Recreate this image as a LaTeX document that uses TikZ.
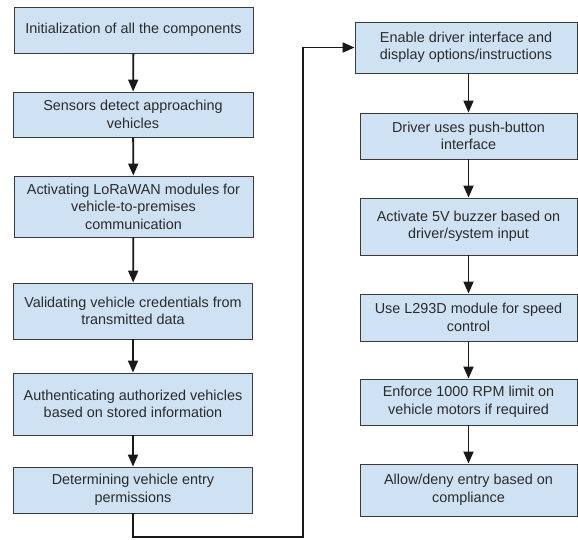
\documentclass[tikz,border=0pt]{standalone}
\usepackage{fontspec}
\setmainfont{Liberation Sans}
\usetikzlibrary{arrows.meta}
\definecolor{boxfill}{HTML}{CFE2F3}
\definecolor{boxline}{HTML}{3A3A3A}
\definecolor{txt}{HTML}{2B2B2B}
\tikzset{
  stepbox/.style={draw=boxline, fill=boxfill, line width=0.9pt, align=center,
    inner sep=0pt, text=txt, font=\fontsize{14.4}{17.5}\selectfont},
  flow/.style={line width=1.8pt, draw=black!90, -{Triangle[length=12pt,width=10pt]}}
}
\begin{document}
\begin{tikzpicture}[x=1pt,y=-1pt]
\useasboundingbox (0,0) rectangle (578,539);
% left column
\node[stepbox, minimum width=239pt, minimum height=46pt] (b1) at (133.5,30) {Initialization of all the components};
\node[stepbox, minimum width=240pt, minimum height=45pt] (b2) at (133,114.5) {Sensors detect approaching\\vehicles};
\node[stepbox, minimum width=239pt, minimum height=61pt] (b3) at (133.5,206.5) {Activating LoRaWAN modules for\\vehicle-to-premises\\communication};
\node[stepbox, minimum width=239pt, minimum height=56pt] (b4) at (133,311) {Validating vehicle credentials from\\transmitted data};
\node[stepbox, minimum width=239pt, minimum height=62pt] (b5) at (133,404) {Authenticating authorized vehicles\\based on stored information};
\node[stepbox, minimum width=239pt, minimum height=46pt] (b6) at (133,490) {Determining vehicle entry\\permissions};
% right column
\node[stepbox, minimum width=222pt, minimum height=51pt] (r1) at (466,47.5) {Enable driver interface and\\display options/instructions};
\node[stepbox, minimum width=217pt, minimum height=46pt] (r2) at (468.5,136) {Driver uses push-button\\interface};
\node[stepbox, minimum width=217pt, minimum height=57pt] (r3) at (468.5,226.5) {Activate 5V buzzer based on\\driver/system input};
\node[stepbox, minimum width=217pt, minimum height=47pt] (r4) at (468.5,317.5) {Use L293D module for speed\\control};
\node[stepbox, minimum width=217pt, minimum height=46pt] (r5) at (468.5,402) {Enforce 1000 RPM limit on\\vehicle motors if required};
\node[stepbox, minimum width=217pt, minimum height=52pt] (r6) at (468.5,490) {Allow/deny entry based on\\compliance};
\coordinate (turn) at (303,537);
% connectors
\draw[flow] (b1) -- (b2);
\draw[flow] (b2) -- (b3);
\draw[flow] (b3) -- (b4);
\draw[flow] (b4) -- (b5);
\draw[flow] (b5) -- (b6);
\draw[flow] (b6.south) |- (turn) |- (r1.west);
\draw[flow] (r1.south -| r2.north) -- (r2);
\draw[flow] (r2) -- (r3);
\draw[flow] (r3) -- (r4);
\draw[flow] (r4) -- (r5);
\draw[flow] (r5) -- (r6);
\end{tikzpicture}
\end{document}
